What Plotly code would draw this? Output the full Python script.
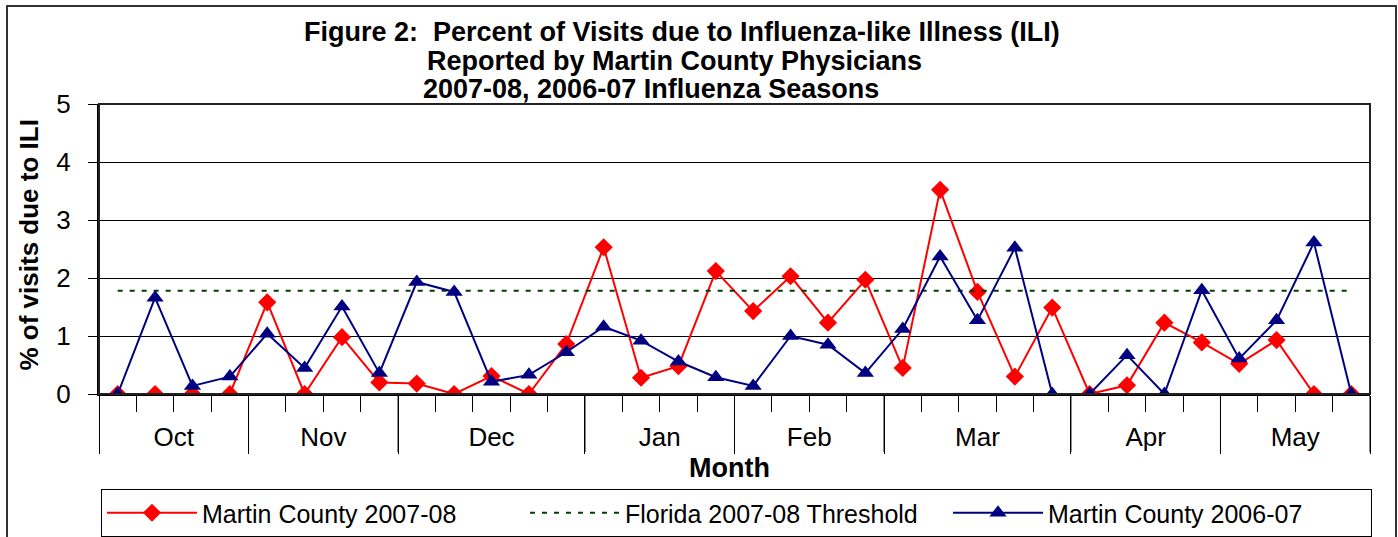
import plotly.graph_objects as go

# ---------------- data ----------------
months = ["Oct", "Nov", "Dec", "Jan", "Feb", "Mar", "Apr", "May"]
weeks_per_month = [4, 4, 5, 4, 4, 5, 4, 4]

mc_2007_08 = [0, 0, 0, 0, 1.58, 0, 0.98, 0.20, 0.18, 0, 0.31, 0, 0.86,
              2.53, 0.28, 0.48, 2.12, 1.43, 2.03, 1.23, 1.97, 0.45, 3.52,
              1.76, 0.30, 1.49, 0, 0.15, 1.23, 0.89, 0.52, 0.93, 0, 0]
mc_2006_07 = [0, 1.66, 0.14, 0.30, 1.04, 0.45, 1.51, 0.36, 1.93, 1.76, 0.21,
              0.33, 0.72, 1.16, 0.92, 0.56, 0.29, 0.14, 1.00, 0.85, 0.36,
              1.12, 2.37, 1.27, 2.52, 0, 0, 0.67, 0, 1.79, 0.61, 1.27, 2.61, 0]
threshold_value = 1.78

title_lines = ["Figure 2:  Percent of Visits due to Influenza-like Illness (ILI)",
               "Reported by Martin County Physicians",
               "2007-08, 2006-07 Influenza Seasons"]

# ---------------- derived ----------------
n_weeks = sum(weeks_per_month)
weeks = list(range(n_weeks))
threshold = [threshold_value] * n_weeks
bounds = [-0.5]
for w in weeks_per_month:
    bounds.append(bounds[-1] + w)
centers = [(bounds[i] + bounds[i + 1]) / 2 for i in range(len(months))]

FONT = "Liberation Sans, Arial, sans-serif"

# pixel geometry helpers (plot area 99..1370 x 104..394)
L, R, T, B = 99, 1370, 104, 394
W, H = R - L, B - T
def px(x):
    return (x - L) / W
def py(y):
    return (B - y) / H

fig = go.Figure()
fig.add_trace(go.Scatter(
    x=weeks, y=mc_2007_08, name="Martin County 2007-08", mode="lines+markers",
    line=dict(color="#FF0000", width=2),
    marker=dict(symbol="diamond", size=14, color="#FF0000")))
fig.add_trace(go.Scatter(
    x=weeks, y=threshold, name="Florida 2007-08 Threshold", mode="lines",
    line=dict(color="#004000", width=2, dash="5px,7px")))
fig.add_trace(go.Scatter(
    x=weeks, y=mc_2006_07, name="Martin County 2006-07", mode="lines+markers",
    line=dict(color="#000080", width=2),
    marker=dict(symbol="triangle-up", size=15, color="#000080")))
# helper trace so the month label axis is drawn
fig.add_trace(go.Scatter(
    x=centers, y=[0] * len(centers), xaxis="x2", mode="markers",
    marker=dict(opacity=0), showlegend=False, hoverinfo="skip"))

ann = []
title_centers = [682, 674, 651]
title_ys = [32.5, 60.5, 89.5]
for txt, cx, cy in zip(title_lines, title_centers, title_ys):
    ann.append(dict(text=txt, x=px(cx), y=py(cy), xref="paper", yref="paper",
                    xanchor="center", yanchor="middle", showarrow=False,
                    font=dict(family=FONT, size=27, color="black", weight="bold")))
ann.append(dict(text="% of visits due to ILI", x=px(28), y=py(245.5),
                xref="paper", yref="paper", xanchor="center", yanchor="middle",
                textangle=-90, showarrow=False,
                font=dict(family=FONT, size=26, color="black", weight="bold")))
ann.append(dict(text="Month", x=px(729), y=py(468), xref="paper", yref="paper",
                xanchor="center", yanchor="middle", showarrow=False,
                font=dict(family=FONT, size=27, color="black", weight="bold")))

shapes = []
for b in bounds:
    shapes.append(dict(type="line", xref="x", yref="paper", x0=b, x1=b,
                       y0=0, y1=py(452), line=dict(color="black", width=1)))
# plot area frame
shapes.append(dict(type="rect", xref="paper", yref="paper", x0=0, x1=1, y0=0, y1=1,
                   line=dict(color="#222222", width=2)))
# outer chart frame
shapes.append(dict(type="rect", xref="paper", yref="paper",
                   x0=px(7), x1=px(1396), y0=py(560), y1=py(6),
                   line=dict(color="#333333", width=2)))

fig.update_layout(
    width=1398, height=537,
    margin=dict(l=L, r=1398 - R, t=T, b=537 - B, autoexpand=False),
    paper_bgcolor="white", plot_bgcolor="white",
    font=dict(family=FONT, color="black"),
    showlegend=True,
    legend=dict(orientation="h", x=px(101), y=py(489), xanchor="left", yanchor="top",
                bordercolor="black", borderwidth=1, bgcolor="white",
                font=dict(family=FONT, size=25, color="black"),
                itemwidth=90, entrywidth=318, entrywidthmode="pixels",
                traceorder="normal"),
    xaxis=dict(range=[-0.5, n_weeks - 0.5], showgrid=False, zeroline=False,
               showline=True, linecolor="black", linewidth=2,
               tickmode="array", tickvals=bounds, ticks="outside", ticklen=58,
               tickcolor="black", tickwidth=1, showticklabels=False,
               minor=dict(ticks="outside", ticklen=16, dtick=1, tick0=-0.5,
                          tickcolor="black", tickwidth=1, showgrid=False)),
    xaxis2=dict(overlaying="x", anchor="y", side="bottom", matches="x",
                range=[-0.5, n_weeks - 0.5], showgrid=False, zeroline=False,
                showline=False, tickmode="array", tickvals=centers, ticktext=months,
                ticks="outside", ticklen=20, tickcolor="rgba(0,0,0,0)",
                tickfont=dict(family=FONT, size=26, color="black")),
    yaxis=dict(range=[0, 5], tickvals=[0, 1, 2, 3, 4, 5], showgrid=True,
               gridcolor="black", gridwidth=1, zeroline=False,
               showline=True, linecolor="black", linewidth=2,
               ticks="outside", ticklen=9, tickcolor="black", tickwidth=1,
               ticklabelstandoff=12,
               tickfont=dict(family=FONT, size=26, color="black")),
    annotations=ann, shapes=shapes,
)

fig.write_html("out.html",
               config={"displayModeBar": False},
               post_script="document.body.style.margin='0px';"
                           "document.body.style.overflow='hidden';")
